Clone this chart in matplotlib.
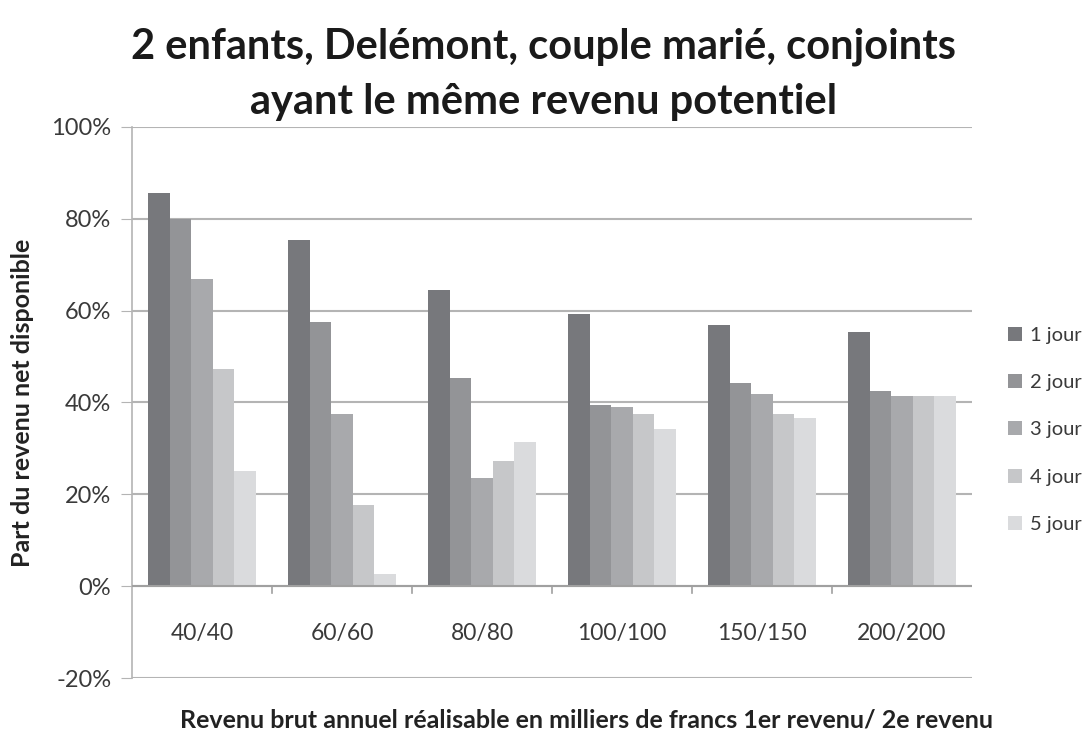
import numpy as np
import matplotlib
matplotlib.use('Agg')
import matplotlib.pyplot as plt
import matplotlib.ticker as ticker

plt.rcParams['font.family'] = ['Lato', 'DejaVu Sans']

categories = ['40/40', '60/60', '80/80', '100/100', '150/150', '200/200']
series_names = ['1 jour', '2 jour', '3 jour', '4 jour', '5 jour']
# share of disposable net income, in %
jour1 = [85.7, 75.3, 64.4, 59.3, 56.8, 55.3]
jour2 = [80.0, 57.5, 45.3, 39.4, 44.2, 42.5]
jour3 = [66.9, 37.6, 23.6, 39.0, 41.8, 41.5]
jour4 = [47.3, 17.7, 27.3, 37.5, 37.4, 41.5]
jour5 = [25.0, 2.7, 31.5, 34.2, 36.6, 41.5]

COLORS = ['#77787c', '#939497', '#a8a9ac', '#c6c7c9', '#dadbdd']
GRID = '#b4b4b4'


def main():
    fig = plt.figure(figsize=(10.87, 7.31), dpi=100)
    ax = fig.add_axes([0.1214, 0.0725, 0.7728, 0.7538])

    series = [jour1, jour2, jour3, jour4, jour5]
    x = np.arange(len(categories))
    width = 0.153
    for i, (vals, name, col) in enumerate(zip(series, series_names, COLORS)):
        ax.bar(x + (i - 2) * width, vals, width, color=col, label=name,
               linewidth=0, zorder=3)

    ax.set_xlim(-0.5, len(categories) - 0.5)
    ax.set_ylim(-20, 100)
    ax.yaxis.set_major_locator(ticker.MultipleLocator(20))
    ax.yaxis.set_major_formatter(ticker.FuncFormatter(lambda v, _: f'{v:.0f}%'))
    ax.grid(axis='y', color=GRID, linewidth=1.5, zorder=0)

    for s in ['top', 'right', 'bottom']:
        ax.spines[s].set_visible(False)
    ax.spines['left'].set_color(GRID)
    ax.spines['left'].set_linewidth(1.2)

    # category axis sits at 0%
    ax.axhline(0, color='#a0a0a0', linewidth=1.5, zorder=4)
    for b in np.arange(0.5, len(categories) - 1, 1.0):
        ax.plot([b, b], [0, -1.5], color='#a0a0a0', linewidth=1.2, zorder=4,
                clip_on=False)

    ax.set_xticks(x)
    ax.set_xticklabels([])
    for xi, lab in zip(x, categories):
        ax.text(xi, -10.2, lab, ha='center', va='center', fontsize=16.5,
                color='#3a3a3a')
    ax.tick_params(axis='x', length=0)
    ax.tick_params(axis='y', length=8, color=GRID, labelsize=17,
                   labelcolor='#3a3a3a', pad=7)

    ax.set_ylabel('Part du revenu net disponible', fontsize=18,
                  fontweight='bold', color='#222222', labelpad=12)
    fig.text(0.54, 0.015, 'Revenu brut annuel réalisable en milliers de francs 1er revenu/ 2e revenu',
             ha='center', va='center', fontsize=18, fontweight='bold',
             color='#222222')
    fig.text(0.5, 0.962, '2 enfants, Delémont, couple marié, conjoints\nayant le même revenu potentiel',
             ha='center', va='top', fontsize=30, fontweight='bold',
             color='#1a1a1a', linespacing=1.55)

    ax.legend(loc='center left', bbox_to_anchor=(0.927, 0.412),
              bbox_transform=fig.transFigure, frameon=False,
              fontsize=14.5, handlelength=0.7, handleheight=0.7,
              labelspacing=1.5, handletextpad=0.4, borderpad=0,
              borderaxespad=0, labelcolor='#3a3a3a')

    fig.savefig('out.png', dpi=100, facecolor='white')


if __name__ == '__main__':
    main()
